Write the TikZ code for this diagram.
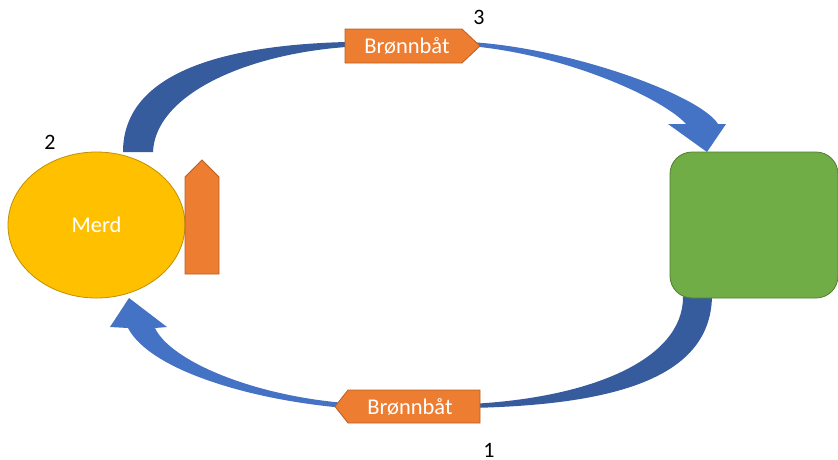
\documentclass[tikz,border=0pt]{standalone}
\usepackage{fontspec}
\setmainfont{Carlito}
\usetikzlibrary{shapes.geometric}
\definecolor{darkarc}{HTML}{375C9E}
\definecolor{lightarc}{HTML}{4472C4}
\definecolor{orfill}{HTML}{ED7D31}
\definecolor{ordraw}{HTML}{B85F22}
\definecolor{goldfill}{HTML}{FFC000}
\definecolor{golddraw}{HTML}{BF9000}
\definecolor{grfill}{HTML}{70AD47}
\definecolor{grdraw}{HTML}{507E32}
\tikzset{
  darkpart/.style={fill=darkarc, draw=none},
  lightpart/.style={fill=lightarc, draw=none},
  orshape/.style={fill=orfill, draw=ordraw, line width=0.8pt},
  wtext/.style={text=white, font=\fontsize{22.5}{26}\selectfont, inner sep=0pt},
  numtext/.style={text=black, font=\fontsize{22}{26}\selectfont, inner sep=0pt}
}
\begin{document}
\begin{tikzpicture}[x=1pt,y=-1pt]
\useasboundingbox (0,0) rectangle (838,459);
% top curved arrow
\path[darkpart] (123,152) .. controls (123,70) and (230,45) .. (346,42)
  -- (346,47) .. controls (240,55) and (155,97) .. (153,152) -- cycle;
\path[lightpart] (470,42) .. controls (570,48) and (700,95) .. (718,124)
  -- (726,124) -- (707,152) -- (668,124) -- (686,124)
  .. controls (665,100) and (570,55) .. (470,46) -- cycle;
% bottom curved arrow
\path[darkpart] (712,297) .. controls (710,380) and (610,405) .. (470,408)
  -- (470,404) .. controls (590,398) and (683,360) .. (683,297) -- cycle;
\path[lightpart] (345,408) .. controls (250,400) and (150,370) .. (128,328)
  -- (110,327) -- (129,298) -- (167,327) -- (155,328)
  .. controls (170,360) and (250,395) .. (345,403) -- cycle;
% merd ellipse
\node[ellipse, fill=goldfill, draw=golddraw, line width=0.8pt,
  minimum width=177pt, minimum height=146pt, inner sep=0pt,
  text=white, font=\fontsize{22.5}{26}\selectfont] (merd) at (96.5,225) {Merd};
% vertical orange pentagon
\path[orshape] (185,177) -- (202,160) -- (219,177) -- (219,274) -- (185,274) -- cycle;
% green rounded rectangle
\node[draw=grdraw, fill=grfill, line width=0.8pt, rounded corners=22pt,
  minimum width=168pt, minimum height=146pt, inner sep=0pt] (tank) at (754,225) {};
% labels
\path[orshape] (345,29) -- (462,29) -- (480,46) -- (462,63) -- (345,63) -- cycle;
\node[wtext] (toplabel) at (407,46) {Brønnbåt};
\path[orshape] (348,390) -- (480,390) -- (480,423) -- (348,423) -- (335,406.5) -- cycle;
\node[wtext] (botlabel) at (410,407) {Brønnbåt};
% numbers
\node[numtext] (n3) at (479,17) {3};
\node[numtext] (n2) at (50,142) {2};
\node[numtext] (n1) at (489,450.5) {1};
\end{tikzpicture}
\end{document}
